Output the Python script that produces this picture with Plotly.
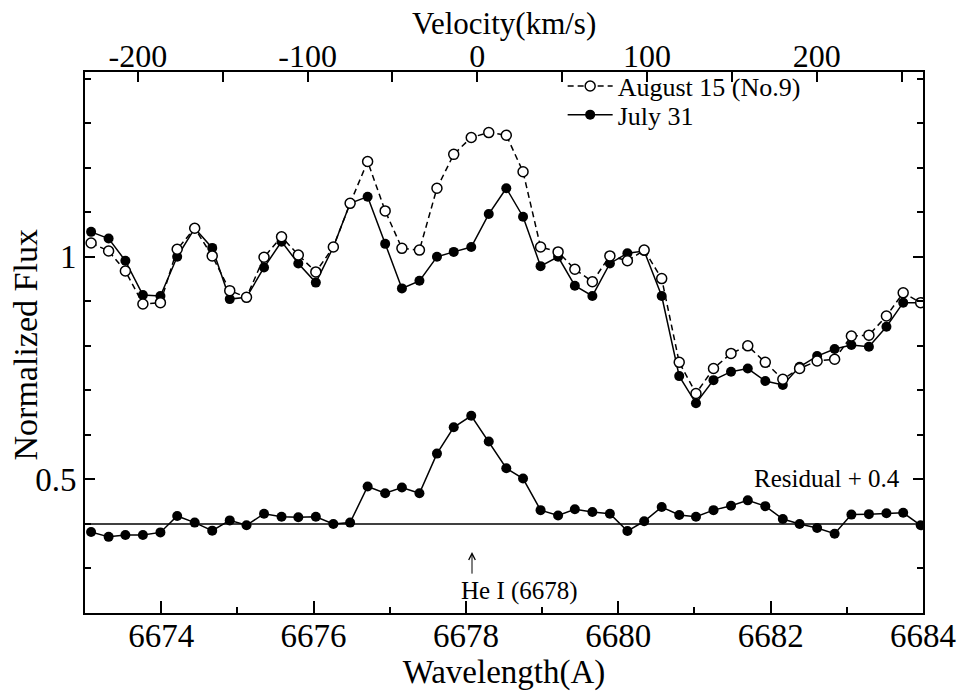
import plotly.graph_objects as go

# ---------------- data ----------------
wavelength = [6673.08, 6673.31, 6673.53, 6673.76, 6673.99, 6674.21, 6674.44, 6674.67,
              6674.90, 6675.12, 6675.35, 6675.58, 6675.80, 6676.03, 6676.26, 6676.48,
              6676.71, 6676.94, 6677.16, 6677.39, 6677.62, 6677.84, 6678.07, 6678.30,
              6678.53, 6678.75, 6678.98, 6679.21, 6679.43, 6679.66, 6679.89, 6680.12,
              6680.34, 6680.57, 6680.80, 6681.02, 6681.25, 6681.48, 6681.70, 6681.93,
              6682.16, 6682.38, 6682.61, 6682.84, 6683.06, 6683.29, 6683.52, 6683.74,
              6683.97]

july31 = [1.056, 1.041, 0.991, 0.914, 0.912, 1.000, 1.064, 1.020, 0.905, 0.909,
          0.976, 1.034, 0.985, 0.942, 1.022, 1.120, 1.135, 1.029, 0.929, 0.946,
          1.000, 1.011, 1.022, 1.096, 1.154, 1.090, 0.979, 1.000, 0.935, 0.912,
          0.985, 1.008, 1.013, 0.912, 0.732, 0.671, 0.723, 0.742, 0.749, 0.721,
          0.712, 0.753, 0.777, 0.793, 0.802, 0.798, 0.843, 0.897, 0.897]

aug15 = [1.031, 1.013, 0.968, 0.894, 0.897, 1.017, 1.064, 1.002, 0.924, 0.909,
         0.999, 1.045, 1.004, 0.966, 1.022, 1.120, 1.214, 1.103, 1.019, 1.015,
         1.154, 1.230, 1.268, 1.279, 1.273, 1.191, 1.022, 1.011, 0.972, 0.944,
         1.002, 0.991, 1.015, 0.951, 0.763, 0.693, 0.749, 0.783, 0.800, 0.763,
         0.725, 0.749, 0.766, 0.770, 0.822, 0.824, 0.867, 0.919, 0.897]

residual = [0.382, 0.371, 0.375, 0.375, 0.381, 0.418, 0.403, 0.385, 0.408, 0.397,
            0.423, 0.416, 0.415, 0.416, 0.400, 0.403, 0.484, 0.469, 0.482, 0.469,
            0.558, 0.617, 0.643, 0.585, 0.525, 0.502, 0.431, 0.419, 0.433, 0.427,
            0.423, 0.384, 0.406, 0.438, 0.420, 0.416, 0.431, 0.441, 0.453, 0.440,
            0.411, 0.400, 0.391, 0.378, 0.421, 0.422, 0.424, 0.425, 0.397]

vel_ticks = [-200, -100, 0, 100, 200]
vel_ticktext = ["-200", "-100", "0", "100", "200"]

x_range = [6673, 6684]
y_range = [0.2, 1.415]
residual_offset = 0.4
he_rest = 6678.15          # He I rest wavelength (A)
c_kms = 299792.458
he_line_pos = 6678.08

vel_range = [(w - he_rest) / he_rest * c_kms for w in x_range]

FONT = "Liberation Serif"
BLACK = "black"
LEG_FONT = dict(family=FONT, size=26, color=BLACK)

fig = go.Figure()

fig.add_shape(type="line", xref="paper", x0=0, x1=1, yref="y",
              y0=residual_offset, y1=residual_offset,
              line=dict(color=BLACK, width=1.5), layer="below")

fig.add_trace(go.Scatter(
    x=wavelength, y=residual, mode="lines+markers", showlegend=False,
    line=dict(color=BLACK, width=1.5),
    marker=dict(symbol="circle", size=10, color=BLACK)))

fig.add_trace(go.Scatter(
    x=wavelength, y=july31, mode="lines+markers", name="July 31", legend="legend2",
    line=dict(color=BLACK, width=1.5),
    marker=dict(symbol="circle", size=10, color=BLACK)))

fig.add_trace(go.Scatter(
    x=wavelength, y=aug15, mode="lines+markers", name="August 15 (No.9)", legend="legend",
    line=dict(color=BLACK, width=1.5, dash="6px,4px"),
    marker=dict(symbol="circle", size=10, color="white",
                line=dict(color=BLACK, width=1.5))))

# invisible carrier for the velocity (top) axis
fig.add_trace(go.Scatter(
    x=vel_range, y=[y_range[0], y_range[0]], xaxis="x2", yaxis="y",
    mode="markers", marker=dict(opacity=0), showlegend=False, hoverinfo="skip"))

fig.add_annotation(x=he_line_pos, y=0.337, ax=he_line_pos, ay=0.285,
                   xref="x", yref="y", axref="x", ayref="y",
                   text="", showarrow=True, arrowhead=5, arrowsize=1.3,
                   arrowwidth=1, arrowcolor=BLACK)
fig.add_annotation(x=6677.91, y=0.249, xref="x", yref="y", text="He I (6678)",
                   showarrow=False, xanchor="left", yanchor="middle",
                   font=dict(family=FONT, size=25, color=BLACK))
fig.add_annotation(x=6683.72, y=0.503, xref="x", yref="y", text="Residual + 0.4",
                   showarrow=False, xanchor="right", yanchor="middle",
                   font=dict(family=FONT, size=25, color=BLACK))

# axis titles for the top (velocity) axis and y axis, placed precisely
fig.add_annotation(x=0.5, y=1.0888, xref="paper", yref="paper", text="Velocity(km/s)",
                   showarrow=False, xanchor="center", yanchor="middle",
                   font=dict(family=FONT, size=31, color=BLACK))
fig.add_annotation(x=-0.0713, y=0.495, xref="paper", yref="paper", text="Normalized Flux",
                   showarrow=False, xanchor="center", yanchor="middle", textangle=-90,
                   font=dict(family=FONT, size=34, color=BLACK))

legend_common = dict(xanchor="left", yanchor="middle", bgcolor="rgba(0,0,0,0)",
                     font=LEG_FONT, itemwidth=45)

fig.update_layout(
    width=960, height=694,
    margin=dict(l=85, r=37, t=72, b=81, autoexpand=False),
    paper_bgcolor="white", plot_bgcolor="white",
    font=dict(family=FONT, color=BLACK),
    showlegend=True,
    legend=dict(x=0.570, y=0.974, **legend_common),
    legend2=dict(x=0.570, y=0.921, **legend_common),
    xaxis=dict(
        range=x_range, tick0=6674, dtick=2, automargin=False,
        ticks="inside", ticklen=12, tickwidth=1.5, tickcolor=BLACK,
        ticklabelstandoff=-8,
        minor=dict(dtick=1, ticks="inside", ticklen=6, tickwidth=1.5, tickcolor=BLACK),
        showline=True, linecolor=BLACK, linewidth=2, mirror=False,
        showgrid=False, zeroline=False,
        tickfont=dict(family=FONT, size=33, color=BLACK),
        title=dict(text="Wavelength(A)", font=dict(family=FONT, size=33, color=BLACK),
                   standoff=4)),
    xaxis2=dict(
        overlaying="x", side="top", anchor="y", automargin=False,
        range=vel_range, tickmode="array", tickvals=vel_ticks, ticktext=vel_ticktext,
        ticks="inside", ticklen=10, tickwidth=1.5, tickcolor=BLACK,
        ticklabelstandoff=-10,
        minor=dict(dtick=50, tick0=0, ticks="inside", ticklen=10, tickwidth=1.5,
                   tickcolor=BLACK),
        showline=True, linecolor=BLACK, linewidth=2,
        showgrid=False, zeroline=False,
        tickfont=dict(family=FONT, size=32, color=BLACK)),
    yaxis=dict(
        range=y_range, tick0=0, dtick=0.5, automargin=False,
        ticks="inside", ticklen=10, tickwidth=1.5, tickcolor=BLACK,
        minor=dict(dtick=0.1, ticks="inside", ticklen=6, tickwidth=1.5, tickcolor=BLACK),
        showline=True, linecolor=BLACK, linewidth=2, mirror="ticks",
        showgrid=False, zeroline=False,
        tickfont=dict(family=FONT, size=33, color=BLACK)),
)

fig.write_html("out.html")
